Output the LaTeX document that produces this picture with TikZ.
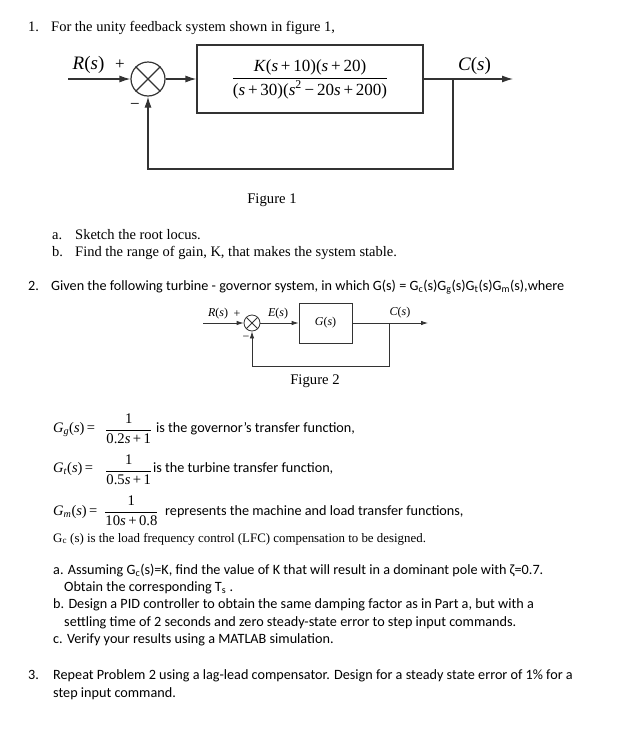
\documentclass[tikz,border=0pt]{standalone}
\usepackage{fontspec}
\usepackage{amsmath}
\setmainfont{Liberation Serif}
\newfontfamily\calibri{Carlito}
\usetikzlibrary{arrows.meta}
\usetikzlibrary{positioning}
\usetikzlibrary{calc}

\tikzset{
  serifline/.style={anchor=base west, inner sep=0pt, font=\fontsize{14.5}{17}\selectfont},
  smallserif/.style={anchor=base west, inner sep=0pt, font=\fontsize{12.9}{15}\selectfont},
  sansline/.style={anchor=base west, inner sep=0pt, font=\calibri\fontsize{14.2}{17}\selectfont},
  eqfrac/.style={anchor=west, inner sep=0pt, font=\fontsize{14.7}{17}\selectfont},
  wire/.style={draw=black!80, line width=1.2pt},
  sigarrow/.style={wire, -{Latex[length=11pt,width=7pt]}},
  thinwire/.style={draw=black!80, line width=0.8pt},
  thinarrow/.style={thinwire, -{Latex[length=7pt,width=4.5pt]}},
  sumjunction/.style={circle, inner sep=0pt, fill=white},
  blockbox/.style={rectangle, inner sep=0pt, fill=white},
  biglabel/.style={inner sep=0pt, font=\fontsize{19}{21}\selectfont},
  smalllabel/.style={inner sep=0pt, font=\fontsize{12}{14}\selectfont},
}

\begin{document}
\begin{tikzpicture}[x=1pt, y=-1pt]

\fill[white] (0,0) rectangle (633,734);
\useasboundingbox (0,0) rectangle (633,734);

% Question 1
\node[serifline] (q1num) at (28,31) {1.};
\node[serifline] (q1text) at (51,31) {For the unity feedback system shown in figure 1,};

% Figure 1
\coordinate (in1) at (68,79);
\node[sumjunction, wire, minimum size=34pt] (sum1) at (148,79) {};
\draw[wire] (sum1.north east) -- (sum1.south west) (sum1.north west) -- (sum1.south east);
\node[blockbox, wire, minimum width=226pt, minimum height=68pt, font=\fontsize{17}{19}\selectfont] (plant1) at (310,79)
  {$\dfrac{\text{\textit{K}(\textit{s}\,+\,10)(\textit{s}\,+\,20)}}{\text{(\textit{s}\,+\,30)(\textit{s}\textsuperscript{2}\,−\,20\textit{s}\,+\,200)}}$};
\coordinate (branch1) at (453,79);
\coordinate (out1) at (513,79);
\coordinate (fb1) at (148,169);

\draw[sigarrow] (in1) -- (sum1.west);
\draw[sigarrow] (sum1.east) -- (plant1.west);
\draw[wire] (plant1.east) -- (branch1);
\draw[sigarrow] (branch1) -- (out1);
\draw[sigarrow] (branch1) |- (fb1) -- (sum1.south);

\node[biglabel] (r1) at (88.5,65) {\textit{R}(\textit{s})};
\node[inner sep=0pt, font=\fontsize{17}{19}\selectfont] (plus1) at (120,65) {+};
\node[inner sep=0pt, font=\fontsize{17}{19}\selectfont] (minus1) at (135,106) {−};
\node[biglabel] (c1) at (474.5,66) {\textit{C}(\textit{s})};

\node[inner sep=0pt, font=\fontsize{14.7}{17}\selectfont] (fig1) at (272,200) {Figure 1};

\node[serifline] (q1a) at (52,239) {a.};
\node[serifline] (q1atext) at (75,239) {Sketch the root locus.};
\node[serifline] (q1b) at (52,256) {b.};
\node[serifline] (q1btext) at (75,256) {Find the range of gain, K, that makes the system stable.};

% Question 2
\node[sansline] (q2num) at (28,290) {2.};
\node[sansline] (q2text) at (51,290) {Given the following turbine - governor system, in which G(s) = G\textsubscript{c}(s)G\textsubscript{g}(s)G\textsubscript{t}(s)G\textsubscript{m}(s),where};

% Figure 2
\coordinate (in2) at (203,323);
\node[sumjunction, thinwire, minimum size=16pt] (sum2) at (252,323) {};
\draw[thinwire] (sum2.north east) -- (sum2.south west) (sum2.north west) -- (sum2.south east);
\node[blockbox, thinwire, minimum width=53pt, minimum height=40pt, smalllabel] (plant2) at (325.5,323) {\textit{G}(\textit{s})};
\coordinate (branch2) at (389,323);
\coordinate (out2) at (428,323);
\coordinate (fb2) at (252,366);

\draw[thinarrow] (in2) -- (sum2.west);
\draw[thinarrow] (sum2.east) -- (plant2.west);
\draw[thinwire] (plant2.east) -- (branch2);
\draw[thinarrow] (branch2) -- (out2);
\draw[thinarrow] (branch2) |- (fb2) -- (sum2.south);

\node[smalllabel] (r2) at (218,314) {\textit{R}(\textit{s})};
\node[smalllabel] (plus2) at (237,314) {+};
\node[smalllabel] (minus2) at (246,338) {−};
\node[smalllabel] (e2) at (278,314) {\textit{E}(\textit{s})};
\node[smalllabel] (c2) at (400,313) {\textit{C}(\textit{s})};

\node[inner sep=0pt, font=\fontsize{14.7}{17}\selectfont] (fig2) at (315,381) {Figure 2};

% Transfer functions
\node[serifline] (gglhs) at (53,432) {\textit{G}\textsubscript{\textit{g}}(\textit{s})\,=};
\node[eqfrac] (ggfrac) at (105,429) {$\dfrac{\text{1}}{\text{0.2\textit{s}\,+\,1}}$};
\node[sansline] (ggtext) at (156,432) {is the governor’s transfer function,};

\node[serifline] (gtlhs) at (53,472) {\textit{G}\textsubscript{\textit{t}}(\textit{s})\,=};
\node[eqfrac] (gtfrac) at (105,470) {$\dfrac{\text{1}}{\text{0.5\textit{s}\,+\,1}}$};
\node[sansline] (gttext) at (153,472) {is the turbine transfer function,};

\node[serifline] (gmlhs) at (53,515) {\textit{G}\textsubscript{\textit{m}}(\textit{s})\,=};
\node[eqfrac] (gmfrac) at (104,511) {$\dfrac{\text{1}}{\text{10\textit{s}\,+\,0.8}}$};
\node[sansline] (gmtext) at (165,515) {represents the machine and load transfer functions,};

\node[smallserif] (gctext) at (53,542) {G\textsubscript{c} (s) is the load frequency control (LFC) compensation to be designed.};

\node[sansline] (q2a) at (53,574) {a. Assuming G\textsubscript{c}(s)=K, find the value of K that will result in a dominant pole with ζ=0.7.};
\node[sansline] (q2a2) at (64,591) {Obtain the corresponding T\textsubscript{s} .};
\node[sansline] (q2b) at (53,608) {b. Design a PID controller to obtain the same damping factor as in Part a, but with a};
\node[sansline] (q2b2) at (64,626) {settling time of 2 seconds and zero steady-state error to step input commands.};
\node[sansline] (q2c) at (53,643) {c. Verify your results using a MATLAB simulation.};

% Question 3
\node[sansline] (q3num) at (28,679) {3.};
\node[sansline] (q3text) at (53,679) {Repeat Problem 2 using a lag-lead compensator. Design for a steady state error of 1\% for a};
\node[sansline] (q3text2) at (53,697) {step input command.};

\end{tikzpicture}
\end{document}
